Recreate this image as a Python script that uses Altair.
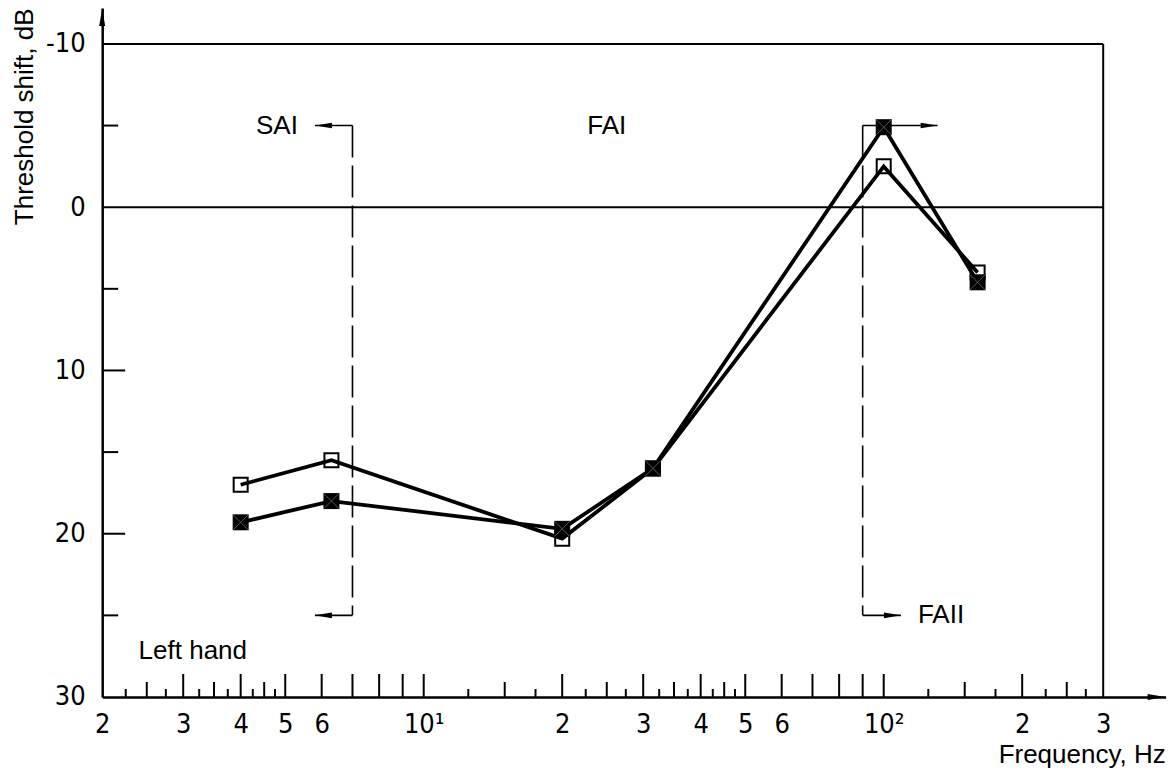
import json
import altair as alt
import pandas as pd

# ---------------- data ----------------
freq = [4, 6.3, 20, 31.5, 100, 160]
open_shift = [17.0, 15.5, 20.3, 16.0, -2.5, 4.0]
filled_shift = [19.3, 18.0, 19.7, 16.0, -4.9, 4.6]

x_label_values = [2, 3, 4, 5, 6, 10, 20, 30, 40, 50, 60, 100, 200, 300]
x_label_texts = ["2", "3", "4", "5", "6", "10¹", "2", "3", "4", "5", "6", "10²", "2", "3"]
y_label_values = [-10, 0, 10, 20, 30]
y_label_texts = ["-10", "0", "10", "20", "30"]

x_ticks_long = [3, 4, 5, 6, 7, 8, 9, 10, 20, 30, 40, 50, 60, 70, 80, 90, 100, 200]
x_ticks_mid = [2.5, 3.5, 4.5, 15, 25, 35, 45, 150, 250]
x_ticks_short = [2.25, 2.75, 3.25, 3.75, 4.25, 4.75, 12.5, 17.5, 22.5, 27.5,
                 32.5, 37.5, 42.5, 47.5, 125, 175, 225, 275]
y_ticks_long = [10, 20]
y_ticks_short = [-5, 5, 15, 25]

x_min, x_max, x_frame = 2, 410, 300
y_top, y_bottom, y_frame_top = -12.2, 30, -10

# receptor band boundaries (dashed) and their arrows
bound_x = [7, 90]
bound_y1 = [-5, -5]
bound_y2 = [25, 25]
arrow_from = [7, 7, 90, 90]
arrow_tip = [5.8, 5.8, 131, 109]
arrow_y = [-5, 25, -5, 25]
arrow_dir = ["left", "left", "right", "right"]

label_sai = ("SAI", 5.8, -5)
label_fai = ("FAI", 25, -5)
label_faii = ("FAII", 109, 25)
label_hand = ("Left hand", 2.4, 27.2)

# ---------------- tables ----------------
series = pd.DataFrame({
    "f": freq * 2,
    "v": open_shift + filled_shift,
    "s": ["open"] * len(freq) + ["filled"] * len(freq),
})
open_df = series[series.s == "open"]
filled_df = series[series.s == "filled"]

frame_df = pd.DataFrame({
    "f": [x_min, x_frame, x_min],
    "f2": [x_frame, x_frame, x_frame],
    "v": [y_frame_top, y_frame_top, 0],
    "v2": [y_frame_top, y_bottom, 0],
})
dash_df = pd.DataFrame({"f": bound_x, "f2": bound_x, "v": bound_y1, "v2": bound_y2})
shaft_df = pd.DataFrame({"f": arrow_from, "f2": arrow_tip, "v": arrow_y, "v2": arrow_y, "d": arrow_dir})

FONT = "Liberation Sans, Arial, sans-serif"
NARROW = "Liberation Sans Narrow, DejaVu Sans Condensed, sans-serif"
FS = 26
LFS = 27


def label_expr(vals, texts):
    return "[" + ",".join(json.dumps(t) for t in texts) + "][indexof([" + \
        ",".join(str(v) for v in vals) + "], datum.value)]"


xs = alt.Scale(type="log", domain=[x_min, x_max], nice=False)
ys = alt.Scale(domain=[y_top, y_bottom], reverse=True, nice=False, zero=False)

x_axis = alt.Axis(
    values=x_label_values, labelExpr=label_expr(x_label_values, x_label_texts),
    ticks=False, tickSize=0, grid=False, domain=True, domainWidth=2.5, domainColor="black",
    labelFont=NARROW, labelFontSize=LFS, labelColor="black", labelPadding=15,
    labelFlush=False, labelOverlap=False,
    title="Frequency, Hz", titleFont=FONT, titleFontSize=FS, titleFontWeight="normal",
    titleColor="black", titleX=1063, titleY=66, titleAlign="right", titleBaseline="alphabetic",
)
y_axis = alt.Axis(
    values=y_label_values, labelExpr=label_expr(y_label_values, y_label_texts),
    ticks=False, tickSize=0, grid=False, domain=True, domainWidth=2.5, domainColor="black",
    labelFont=NARROW, labelFontSize=LFS, labelColor="black", labelPadding=17,
    labelFlush=False, labelOverlap=False,
    title="Threshold shift, dB", titleFont=FONT, titleFontSize=FS, titleFontWeight="normal",
    titleColor="black", titleX=-70, titleY=0, titleAlign="right", titleBaseline="alphabetic",
    titleAngle=270,
)


def X(field="f"):
    return alt.X(field, type="quantitative", scale=xs, axis=x_axis)


def Y(field="v"):
    return alt.Y(field, type="quantitative", scale=ys, axis=y_axis)


# frame lines (top, right, zero line)
frame = alt.Chart(frame_df).mark_rule(color="black", strokeWidth=2).encode(
    x=X("f"), x2="f2", y=Y("v"), y2="v2")


# x ticks pointing up from the axis, y ticks pointing right
def xtick_layer(vals, length):
    df = pd.DataFrame({"f": vals, "v": [y_bottom] * len(vals)})
    return alt.Chart(df).mark_rule(
        color="black", strokeWidth=2, y2Offset=-length).encode(
        x=X("f"), y=Y("v"), y2="v")


def ytick_layer(vals, length):
    df = pd.DataFrame({"v": vals, "f": [x_min] * len(vals)})
    return alt.Chart(df).mark_rule(
        color="black", strokeWidth=2, x2Offset=length).encode(
        y=Y("v"), x=X("f"), x2="f")


ticks = [xtick_layer(x_ticks_long, 23), xtick_layer(x_ticks_mid, 15),
         xtick_layer(x_ticks_short, 8), ytick_layer(y_ticks_long, 23),
         ytick_layer(y_ticks_short, 16)]

ARROW = "M0,-1L0.33,1L-0.33,1Z"
axis_heads = [
    alt.Chart(pd.DataFrame({"f": [x_max], "v": [y_bottom]})).mark_point(
        shape=ARROW, angle=90, filled=True, color="black", opacity=1, size=324, xOffset=-9
    ).encode(x=X("f"), y=Y("v")),
    alt.Chart(pd.DataFrame({"f": [x_min], "v": [y_top]})).mark_point(
        shape=ARROW, angle=0, filled=True, color="black", opacity=1, size=324, yOffset=9
    ).encode(x=X("f"), y=Y("v")),
]

dashed = alt.Chart(dash_df).mark_rule(color="black", strokeWidth=1.6, strokeDash=[32, 8]).encode(
    x=X("f"), x2="f2", y=Y("v"), y2="v2")
shafts = alt.Chart(shaft_df).mark_rule(color="black", strokeWidth=1.6).encode(
    x=X("f"), x2="f2", y=Y("v"), y2="v2")
heads_left = alt.Chart(shaft_df[shaft_df.d == "left"]).mark_point(
    shape=ARROW, angle=270, filled=True, color="black", opacity=1, size=289, xOffset=8.5
).encode(x=X("f2"), y=Y("v"))
heads_right = alt.Chart(shaft_df[shaft_df.d == "right"]).mark_point(
    shape=ARROW, angle=90, filled=True, color="black", opacity=1, size=289, xOffset=-8.5
).encode(x=X("f2"), y=Y("v"))


def text_layer(lab, align, dx=0):
    t, fx, vy = lab
    return alt.Chart(pd.DataFrame({"f": [fx], "v": [vy], "t": [t]})).mark_text(
        font=FONT, fontSize=FS, color="black", align=align, baseline="middle", dx=dx
    ).encode(x=X("f"), y=Y("v"), text="t:N")


texts = [text_layer(label_sai, "right", -17), text_layer(label_fai, "center"),
         text_layer(label_faii, "left", 17), text_layer(label_hand, "left")]

line_open = alt.Chart(open_df).mark_line(color="black", strokeWidth=3.8).encode(
    x=X("f"), y=Y("v"), order="f:Q")
line_filled = alt.Chart(filled_df).mark_line(color="black", strokeWidth=3.8).encode(
    x=X("f"), y=Y("v"), order="f:Q")
pts_open = alt.Chart(open_df).mark_point(
    shape="square", filled=False, color="black", strokeWidth=2, size=196, opacity=1
).encode(x=X("f"), y=Y("v"))
pts_filled = alt.Chart(filled_df).mark_point(
    shape="square", filled=True, color="black", size=256, opacity=1
).encode(x=X("f"), y=Y("v"))
pts_cross = alt.Chart(filled_df).mark_point(
    shape="M-1,-1L1,1M-1,1L1,-1", filled=False, color="#5a5a5a", strokeWidth=1,
    size=225, opacity=1
).encode(x=X("f"), y=Y("v"))

chart = alt.layer(
    frame, *ticks, *axis_heads, dashed, shafts, heads_left, heads_right, *texts,
    line_open, line_filled, pts_open, pts_filled, pts_cross
).properties(
    width=1063.4, height=689,
    autosize=alt.AutoSizeParams(type="none"),
    padding={"left": 94.2, "top": 0, "right": 1, "bottom": 74},
    background="white",
).configure_view(stroke="transparent")

chart.save("out.html", embed_options={"renderer": "svg", "actions": False})
